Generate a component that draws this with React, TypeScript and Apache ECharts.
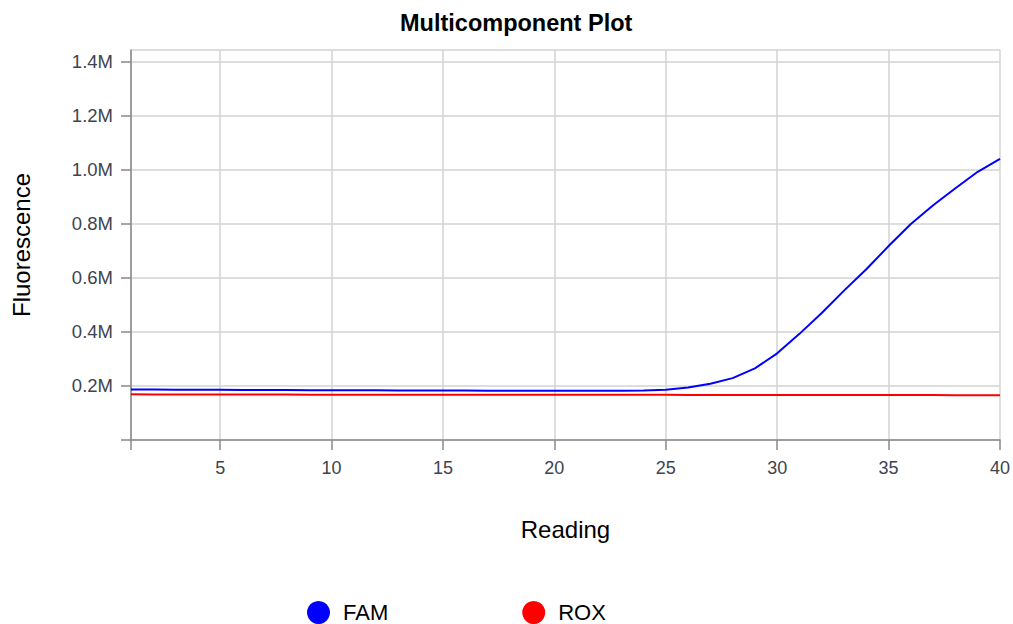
import React, { useEffect, useRef } from "react";
import * as echarts from "echarts";

const readings: number[] = Array.from({ length: 40 }, (_, i) => i + 1);

const famValues: number[] = [
  187000, 186800, 186500, 186200, 186000, 185300, 185000, 184700, 184400, 184000,
  183800, 183900, 183300, 183000, 183200, 182900, 182700, 182600, 182400, 182500,
  182200, 182000, 182300, 183200, 186000, 194000, 208000, 229000, 265000, 321000,
  393000, 470000, 553000, 632000, 718000, 800000, 869000, 932000, 993000, 1041000,
];

const roxValues: number[] = [
  169000, 168900, 168800, 168700, 168600, 168300, 168200, 168100, 168000, 167900,
  167800, 167800, 167700, 167600, 167600, 167500, 167500, 167400, 167400, 167300,
  167300, 167200, 167200, 167100, 167100, 167000, 167000, 166900, 166900, 166800,
  166700, 166700, 166600, 166500, 166400, 166300, 166200, 166000, 165800, 165600,
];

const xTickValues: number[] = [1, 5, 10, 15, 20, 25, 30, 35, 40];
const xLabelValues: number[] = [5, 10, 15, 20, 25, 30, 35, 40];

const seriesNames: string[] = ["FAM", "ROX"];
const seriesColors: string[] = ["#0000ff", "#ff0000"];

export default function App() {
  const ref = useRef<HTMLDivElement>(null);

  useEffect(() => {
    if (!ref.current) return;
    const chart = echarts.init(ref.current, undefined, { renderer: "svg" });
    const font = "Liberation Sans, Arial, Helvetica, sans-serif";
    const axisColor = "#888888";
    const gridColor = "#d3d3d3";
    const labelColor = "#3d4450";

    chart.setOption({
      animation: false,
      title: {
        text: "Multicomponent Plot",
        left: 400,
        top: 11,
        padding: 0,
        textStyle: { fontFamily: font, fontSize: 23.5, fontWeight: "bold", color: "#000" },
      },
      legend: {
        data: seriesNames,
        left: 307,
        top: 601,
        padding: 0,
        icon: "circle",
        itemWidth: 23,
        itemHeight: 23,
        itemGap: 134,
        textStyle: { fontFamily: font, fontSize: 22, lineHeight: 21, color: "#000", padding: [0, 0, 0, 8] },
      },
      grid: { left: 131, right: 13, top: 50, bottom: 184, containLabel: false },
      xAxis: {
        type: "value",
        min: 1,
        max: 40,
        name: "Reading",
        nameLocation: "middle",
        nameGap: 77,
        nameTextStyle: { fontFamily: font, fontSize: 24, color: "#000" },
        axisLine: { lineStyle: { color: axisColor, width: 1.5 } },
        axisTick: { length: 10, customValues: xTickValues, lineStyle: { color: axisColor, width: 1.5 } },
        axisLabel: {
          customValues: xLabelValues,
          margin: 19,
          fontFamily: font,
          fontSize: 18,
          color: labelColor,
        },
        splitLine: { show: true, lineStyle: { color: gridColor, width: 1.5 } },
      },
      yAxis: {
        type: "value",
        min: 0,
        max: 1444000,
        interval: 200000,
        name: "Fluorescence",
        nameLocation: "middle",
        nameGap: 98,
        nameTextStyle: { fontFamily: font, fontSize: 24, color: "#000" },
        axisLine: { show: true, lineStyle: { color: axisColor, width: 1.5 } },
        axisTick: { show: true, length: 10, lineStyle: { color: axisColor, width: 1.5 } },
        axisLabel: {
          margin: 18,
          fontFamily: font,
          fontSize: 18.5,
          color: labelColor,
          formatter: (v: number) => (v === 0 ? "" : (v / 1e6).toFixed(1) + "M"),
        },
        splitLine: { show: true, lineStyle: { color: gridColor, width: 1.5 } },
      },
      series: [
        {
          name: seriesNames[0],
          type: "line",
          data: readings.map((r, i) => [r, famValues[i]]),
          showSymbol: false,
          symbol: "circle",
          color: seriesColors[0],
          lineStyle: { color: seriesColors[0], width: 2 },
        },
        {
          name: seriesNames[1],
          type: "line",
          data: readings.map((r, i) => [r, roxValues[i]]),
          showSymbol: false,
          symbol: "circle",
          color: seriesColors[1],
          lineStyle: { color: seriesColors[1], width: 2 },
        },
      ],
    });

    return () => chart.dispose();
  }, []);

  return <div ref={ref} style={{ width: 1013, height: 624, position: "absolute", left: 0, top: 0 }} />;
}
